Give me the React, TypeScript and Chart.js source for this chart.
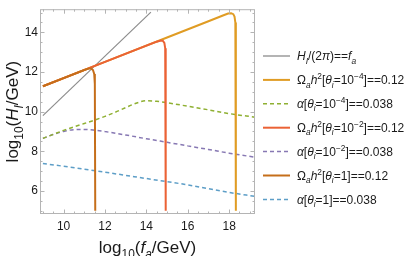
import React, { useEffect, useRef } from 'react';
import { Chart, registerables } from 'chart.js';

Chart.register(...registerables);

const FONT = '"Liberation Sans", Arial, Helvetica, sans-serif';

// ---- axis ranges & ticks ----
const X_MIN = 8.86;
const X_MAX = 19.25;
const Y_MIN = 4.83;
const Y_MAX = 15.17;
const X_TICKS = [10, 12, 14, 16, 18];
const Y_TICKS = [6, 8, 10, 12, 14];

// ---- data ----
const grayX = [9, 14.22];
const grayY = [9.8, 15.02];

const omega4X = [9, 12, 15, 17, 17.7, 17.95, 18.1, 18.2, 18.26, 18.3, 18.32, 18.33];
const omega4Y = [11.28, 12.51, 13.74, 14.56, 14.85, 14.95, 14.97, 14.92, 14.8, 14.5, 13.8, 5.0];

const alpha4X = [9, 9.5, 10, 10.5, 11, 11.5, 12, 12.5, 13, 13.5, 14, 14.5, 15, 16, 17, 18, 19.25];
const alpha4Y = [8.65, 8.85, 9.05, 9.23, 9.4, 9.57, 9.76, 9.97, 10.2, 10.42, 10.55, 10.52, 10.45, 10.27, 10.09, 9.9, 9.72];

const omega2X = [9, 12, 14, 14.5, 14.7, 14.8, 14.87, 14.91, 14.93, 14.94];
const omega2Y = [11.28, 12.51, 13.33, 13.53, 13.59, 13.57, 13.47, 13.2, 12.7, 5.0];

const alpha2X = [9, 9.5, 10, 10.5, 11, 11.5, 12, 13, 14, 15, 16, 17, 18, 19.25];
const alpha2Y = [8.65, 8.84, 9.0, 9.09, 9.1, 9.06, 8.99, 8.82, 8.63, 8.45, 8.27, 8.09, 7.9, 7.7];

const omega0X = [9, 10, 11, 11.2, 11.32, 11.42, 11.48, 11.51, 11.53];
const omega0Y = [11.28, 11.69, 12.1, 12.17, 12.18, 12.1, 11.9, 11.4, 5.0];

const alpha0X = [9, 10, 12, 14, 16, 18, 19.25];
const alpha0Y = [7.38, 7.24, 6.94, 6.62, 6.3, 5.92, 5.72];

// ---- colours ----
const C_GRAY = '#8c8c8c';
const C_ORANGE = '#e09c24';
const C_GREEN = '#8fb032';
const C_RED = '#eb6235';
const C_PURPLE = '#8778b3';
const C_BROWN = '#c56e1a';
const C_BLUE = '#5d9ec7';
const C_FRAME = '#b4b4b4';
const C_TEXT = '#1a1a1a';

type Seg = { t: string; it?: boolean; sub?: boolean; sup?: boolean };

const LEGEND: { segs: Seg[]; color: string; dash: number[]; width: number }[] = [
  {
    segs: [{ t: 'H', it: true }, { t: 'I', it: true, sub: true }, { t: '/(2' }, { t: 'π', it: true }, { t: ')==' }, { t: 'f', it: true }, { t: 'a', it: true, sub: true }],
    color: C_GRAY, dash: [], width: 1.3,
  },
  {
    segs: [{ t: 'Ω' }, { t: 'a', it: true, sub: true }, { t: 'h', it: true }, { t: '2', sup: true }, { t: '[' }, { t: 'θ', it: true }, { t: 'i', it: true, sub: true }, { t: '=10' }, { t: '−4', sup: true }, { t: ']==0.12' }],
    color: C_ORANGE, dash: [], width: 2,
  },
  {
    segs: [{ t: 'α', it: true }, { t: '[' }, { t: 'θ', it: true }, { t: 'i', it: true, sub: true }, { t: '=10' }, { t: '−4', sup: true }, { t: ']==0.038' }],
    color: C_GREEN, dash: [4, 3], width: 1.5,
  },
  {
    segs: [{ t: 'Ω' }, { t: 'a', it: true, sub: true }, { t: 'h', it: true }, { t: '2', sup: true }, { t: '[' }, { t: 'θ', it: true }, { t: 'i', it: true, sub: true }, { t: '=10' }, { t: '−2', sup: true }, { t: ']==0.12' }],
    color: C_RED, dash: [], width: 2,
  },
  {
    segs: [{ t: 'α', it: true }, { t: '[' }, { t: 'θ', it: true }, { t: 'i', it: true, sub: true }, { t: '=10' }, { t: '−2', sup: true }, { t: ']==0.038' }],
    color: C_PURPLE, dash: [4, 3], width: 1.5,
  },
  {
    segs: [{ t: 'Ω' }, { t: 'a', it: true, sub: true }, { t: 'h', it: true }, { t: '2', sup: true }, { t: '[' }, { t: 'θ', it: true }, { t: 'i', it: true, sub: true }, { t: '=1]==0.12' }],
    color: C_BROWN, dash: [], width: 2,
  },
  {
    segs: [{ t: 'α', it: true }, { t: '[' }, { t: 'θ', it: true }, { t: 'i', it: true, sub: true }, { t: '=1]==0.038' }],
    color: C_BLUE, dash: [4, 3], width: 1.5,
  },
];

const X_TITLE: Seg[] = [{ t: 'log' }, { t: '10', sub: true }, { t: '(' }, { t: 'f', it: true }, { t: 'a', it: true, sub: true }, { t: '/GeV)' }];
const Y_TITLE: Seg[] = [{ t: 'log' }, { t: '10', sub: true }, { t: '(' }, { t: 'H', it: true }, { t: 'I', it: true, sub: true }, { t: '/GeV)' }];

function segFont(s: Seg, size: number) {
  const sz = s.sub || s.sup ? size * 0.7 : size;
  return `${s.it ? 'italic ' : ''}${sz}px ${FONT}`;
}

function richWidth(ctx: CanvasRenderingContext2D, segs: Seg[], size: number) {
  let w = 0;
  for (const s of segs) {
    ctx.font = segFont(s, size);
    w += ctx.measureText(s.t).width;
  }
  return w;
}

function drawRich(ctx: CanvasRenderingContext2D, segs: Seg[], x: number, y: number, size: number, color: string, align: 'left' | 'center') {
  let cx = align === 'center' ? x - richWidth(ctx, segs, size) / 2 : x;
  ctx.fillStyle = color;
  ctx.textAlign = 'left';
  ctx.textBaseline = 'alphabetic';
  for (const s of segs) {
    ctx.font = segFont(s, size);
    const dy = s.sub ? size * 0.28 : s.sup ? -size * 0.4 : 0;
    ctx.fillText(s.t, cx, y + dy);
    cx += ctx.measureText(s.t).width;
  }
}

function pts(xs: number[], ys: number[]) {
  return xs.map((x, i) => ({ x, y: ys[i] }));
}

const decor = {
  id: 'decor',
  afterDatasetsDraw(chart: any) {
    const { ctx, chartArea: a, scales } = chart;
    const xs = scales.x;
    const ys = scales.y;
    ctx.save();
    ctx.strokeStyle = C_FRAME;
    ctx.lineWidth = 1;
    ctx.setLineDash([]);
    ctx.strokeRect(a.left + 0.5, a.top + 0.5, a.right - a.left - 1, a.bottom - a.top - 1);
    ctx.beginPath();
    for (let v = 9; v <= 19.001; v += 0.5) {
      const px = Math.round(xs.getPixelForValue(v)) + 0.5;
      const len = Math.abs(v % 2) < 1e-6 ? 4.5 : 2.5;
      ctx.moveTo(px, a.bottom);
      ctx.lineTo(px, a.bottom - len);
      ctx.moveTo(px, a.top);
      ctx.lineTo(px, a.top + len);
    }
    for (let v = 5; v <= 15.001; v += 0.5) {
      const py = Math.round(ys.getPixelForValue(v)) + 0.5;
      const len = Math.abs(v % 2) < 1e-6 ? 4.5 : 2.5;
      ctx.moveTo(a.left, py);
      ctx.lineTo(a.left + len, py);
      ctx.moveTo(a.right, py);
      ctx.lineTo(a.right - len, py);
    }
    ctx.stroke();
    ctx.restore();
  },
  afterDraw(chart: any) {
    const { ctx, chartArea: a } = chart;
    ctx.save();
    // axis titles
    drawRich(ctx, X_TITLE, (a.left + a.right) / 2, 253, 17, C_TEXT, 'center');
    ctx.save();
    ctx.translate(18, (a.top + a.bottom) / 2);
    ctx.rotate(-Math.PI / 2);
    drawRich(ctx, Y_TITLE, 0, 0, 17, C_TEXT, 'center');
    ctx.restore();
    // legend
    const lx0 = 263;
    const lx1 = 290;
    const tx = 297;
    const y0 = 56;
    const dy = 23.9;
    LEGEND.forEach((item, i) => {
      const cy = y0 + i * dy;
      ctx.beginPath();
      ctx.strokeStyle = item.color;
      ctx.lineWidth = item.width;
      ctx.setLineDash(item.dash);
      ctx.moveTo(lx0, cy);
      ctx.lineTo(lx1, cy);
      ctx.stroke();
      ctx.setLineDash([]);
      drawRich(ctx, item.segs, tx, cy + 4.3, 12, C_TEXT, 'left');
    });
    ctx.restore();
  },
};

export default function App() {
  const ref = useRef<HTMLCanvasElement | null>(null);
  useEffect(() => {
    document.body.style.margin = '0';
    const canvas = ref.current;
    if (!canvas) return;
    const line = (data: any, color: string, width: number, dash: number[], order: number, smooth = false) => ({
      data,
      borderColor: color,
      backgroundColor: color,
      borderWidth: width,
      borderDash: dash,
      pointRadius: 0,
      pointHoverRadius: 0,
      fill: false,
      showLine: true,
      tension: 0,
      cubicInterpolationMode: smooth ? 'monotone' : 'default',
      order,
    });
    const chart = new Chart(canvas, {
      type: 'line',
      data: {
        datasets: [
          line(pts(grayX, grayY), C_GRAY, 1.2, [], 5),
          line(pts(omega4X, omega4Y), C_ORANGE, 2, [], 3),
          line(pts(alpha4X, alpha4Y), C_GREEN, 1.5, [4, 3], 4, true),
          line(pts(omega2X, omega2Y), C_RED, 2, [], 2),
          line(pts(alpha2X, alpha2Y), C_PURPLE, 1.5, [4, 3], 4, true),
          line(pts(omega0X, omega0Y), C_BROWN, 2, [], 1),
          line(pts(alpha0X, alpha0Y), C_BLUE, 1.5, [4, 3], 4, true),
        ] as any,
      },
      options: {
        animation: false,
        responsive: false,
        devicePixelRatio: 1,
        parsing: false as any,
        layout: { padding: { left: 0, right: 160, top: 2, bottom: 0 } },
        plugins: { legend: { display: false }, tooltip: { enabled: false } },
        events: [],
        scales: {
          x: {
            type: 'linear',
            min: X_MIN,
            max: X_MAX,
            grid: { display: false, drawTicks: false },
            border: { display: false },
            ticks: { font: { size: 12, family: FONT }, color: C_TEXT, padding: 5, maxRotation: 0 },
            afterBuildTicks: (s: any) => { s.ticks = X_TICKS.map((v) => ({ value: v })); },
            afterFit: (s: any) => { s.height = 42; },
          },
          y: {
            type: 'linear',
            min: Y_MIN,
            max: Y_MAX,
            grid: { display: false, drawTicks: false },
            border: { display: false },
            ticks: { font: { size: 12, family: FONT }, color: C_TEXT, padding: 2 },
            afterBuildTicks: (s: any) => { s.ticks = Y_TICKS.map((v) => ({ value: v })); },
            afterFit: (s: any) => { s.width = 40; },
          },
        },
      } as any,
      plugins: [decor],
    });
    return () => chart.destroy();
  }, []);
  return (
    <div style={{ position: 'absolute', left: 0, top: 0, width: 415, height: 256 }}>
      <canvas ref={ref} width={415} height={256} />
    </div>
  );
}
